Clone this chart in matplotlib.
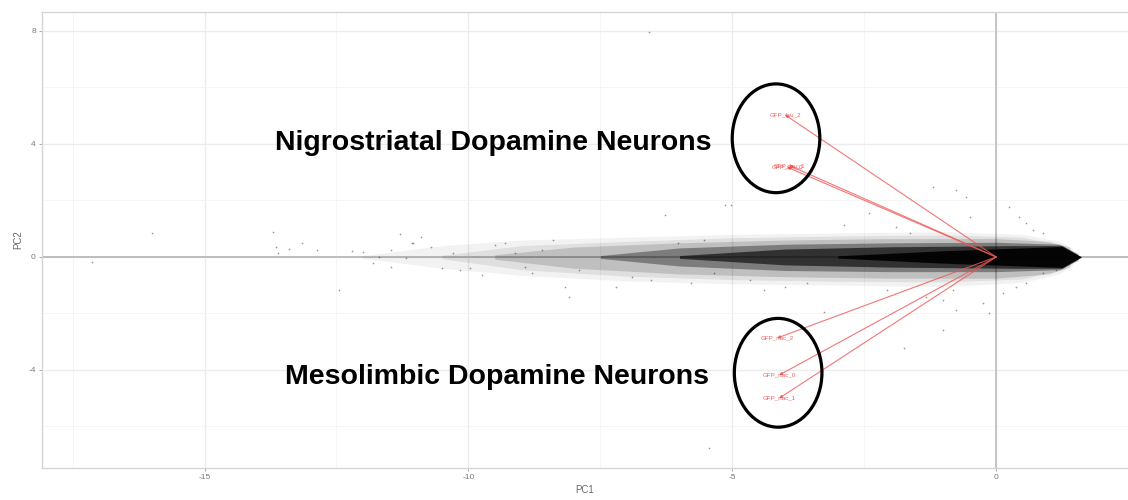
from __future__ import annotations

import matplotlib

matplotlib.use("Agg")
import matplotlib.pyplot as plt
from matplotlib.patches import Ellipse


# loading vectors (PC1, PC2)
LOADING_NAMES = ["GFP_fsu_2", "GFP_fsu_0", "GFP_fsu_1", "GFP_nac_2", "GFP_nac_0", "GFP_nac_1"]
LOADING_PC1 = [-4.00, -3.96, -3.92, -4.15, -4.11, -4.11]
LOADING_PC2 = [5.03, 3.18, 3.24, -2.87, -4.18, -5.00]

# density bands of the dense gene cloud: x, upper edge, lower edge (PC units)
BAND_FAINT_X = [-12.0, -10.5, -9.0, -7.0, -5.0, -3.0, -1.0, 0.5, 1.2, 1.45]
BAND_FAINT_UP = [0.05, 0.40, 0.60, 0.70, 0.80, 0.85, 0.90, 0.80, 0.55, 0.30]
BAND_FAINT_LO = [-0.05, -0.40, -0.65, -0.85, -0.95, -1.00, -1.05, -0.90, -0.60, -0.30]

BAND_SOFT_X = [-10.5, -9.0, -7.0, -5.0, -3.0, -1.0, 0.5, 1.3]
BAND_SOFT_UP = [0.06, 0.40, 0.55, 0.68, 0.74, 0.78, 0.70, 0.40]
BAND_SOFT_LO = [-0.06, -0.45, -0.68, -0.80, -0.86, -0.88, -0.78, -0.42]

BAND_LIGHT_X = [-9.5, -8.0, -6.0, -4.0, -2.0, 0.0, 1.0, 1.4]
BAND_LIGHT_UP = [0.08, 0.35, 0.50, 0.60, 0.65, 0.65, 0.55, 0.35]
BAND_LIGHT_LO = [-0.08, -0.40, -0.60, -0.70, -0.75, -0.75, -0.60, -0.35]

BAND_MID_X = [-7.5, -6.0, -4.0, -2.0, 0.0, 1.2, 1.55]
BAND_MID_UP = [0.05, 0.32, 0.45, 0.50, 0.52, 0.45, 0.12]
BAND_MID_LO = [-0.05, -0.32, -0.48, -0.52, -0.52, -0.45, -0.12]

BAND_DARK_X = [-6.0, -4.0, -2.0, 0.3, 1.25, 1.62]
BAND_DARK_UP = [0.05, 0.28, 0.36, 0.40, 0.40, 0.0]
BAND_DARK_LO = [-0.05, -0.28, -0.36, -0.40, -0.40, 0.0]

BAND_CORE_X = [-3.0, -1.0, 0.5, 1.25, 1.62]
BAND_CORE_UP = [0.04, 0.22, 0.32, 0.37, 0.0]
BAND_CORE_LO = [-0.04, -0.22, -0.32, -0.37, 0.0]

# scattered genes outside the dense band
OUT_PC1 = [-17.14, -16.0, -13.7, -13.65, -13.6, -13.4, -13.15, -12.87, -12.45, -12.2,
           -12.0, -11.8, -11.46, -11.3, -11.46, -11.19, -11.04, -11.7, -11.07, -10.9,
           -10.7, -10.5, -10.3, -10.15, -9.96, -9.75, -9.49, -9.3, -9.11, -8.92,
           -8.8, -8.6, -8.4, -8.16, -8.1, -7.9, -6.28, -7.2, -6.9, -6.53,
           -6.03, -5.78, -5.53, -5.13, -5.03, -2.4, -4.0, -4.66, -5.34, -2.89,
           -3.58, -4.4, -0.5, -0.57, 0.25, 0.57, 0.44, 0.7, 0.88, 0.13,
           0.38, 0.57, -0.25, -0.13, -1.0, -0.81, -1.64, -1.89, -1.32, 0.88,
           1.13, -6.58, -5.44, -0.75, -1.0, -1.75, -3.27, -2.07, -1.19, -0.75]
OUT_PC2 = [-0.17, 0.84, 0.9, 0.36, 0.13, 0.28, 0.49, 0.25, -1.17, 0.22,
           0.19, -0.2, 0.25, 0.8, -0.34, -0.05, 0.48, 0.01, 0.49, 0.72,
           0.36, -0.39, 0.14, -0.46, -0.39, -0.64, 0.42, 0.49, 0.14, -0.35,
           -0.57, 0.25, 0.6, -1.06, -1.41, -0.46, 1.49, -1.06, -0.7, -0.81,
           0.49, -0.92, 0.6, 1.84, 1.84, 1.55, -1.06, -0.81, -0.57, 1.13,
           -0.92, -1.17, 1.42, 2.12, 1.77, 1.2, 1.42, 0.95, 0.85, -1.27,
           -1.06, -0.92, -1.63, -1.98, -1.52, -1.17, 0.85, 1.06, -1.41, -0.57,
           -0.46, 7.95, -6.77, -1.88, -2.58, -3.22, -1.94, -1.17, 2.48, 2.37]

GROUP_LABELS = ["Nigrostriatal Dopamine Neurons", "Mesolimbic Dopamine Neurons"]
GROUP_CENTERS_PC1 = [-4.17, -4.13]
GROUP_CENTERS_PC2 = [4.20, -4.10]


def draw_cloud(ax: plt.Axes) -> None:
    bands = [
        (BAND_FAINT_X, BAND_FAINT_UP, BAND_FAINT_LO, 0.05),
        (BAND_SOFT_X, BAND_SOFT_UP, BAND_SOFT_LO, 0.08),
        (BAND_LIGHT_X, BAND_LIGHT_UP, BAND_LIGHT_LO, 0.14),
        (BAND_MID_X, BAND_MID_UP, BAND_MID_LO, 0.35),
        (BAND_DARK_X, BAND_DARK_UP, BAND_DARK_LO, 0.60),
        (BAND_CORE_X, BAND_CORE_UP, BAND_CORE_LO, 0.90),
    ]
    for xs, up, lo, alpha in bands:
        ax.fill_between(xs, lo, up, color="black", alpha=alpha, lw=0, zorder=2)
    ax.scatter(OUT_PC1, OUT_PC2, s=1.5, color="black", alpha=0.4, lw=0, zorder=2)


def draw_loadings(ax: plt.Axes) -> None:
    for name, px, py in zip(LOADING_NAMES, LOADING_PC1, LOADING_PC2):
        ax.annotate(
            "",
            xy=(px, py),
            xytext=(0, 0),
            arrowprops=dict(arrowstyle="-|>", color="#ee5555", lw=0.8,
                            alpha=0.8, mutation_scale=4, shrinkA=0, shrinkB=0),
            zorder=3,
        )
        ax.text(px, py, name, color="#ee4444", fontsize=4.5, ha="center",
                va="center", alpha=0.85, zorder=4)


def main() -> None:
    plt.rcParams["font.family"] = ["Liberation Sans", "DejaVu Sans"]
    plt.rcParams["axes.unicode_minus"] = False
    fig = plt.figure(figsize=(11.28, 5.0), dpi=100)
    ax = fig.add_axes([42 / 1128, 32 / 500, 1086 / 1128, 456 / 500])
    ax.set_facecolor("white")

    ax.set_xlim(-18.08, 2.42)
    ax.set_ylim(-7.47, 8.67)

    ax.set_xticks([-15, -10, -5, 0])
    ax.set_yticks([-4, 0, 4, 8])
    ax.set_xticks([-17.5, -12.5, -7.5, -2.5, 2.5], minor=True)
    ax.set_yticks([-6, -2, 2, 6], minor=True)
    ax.grid(which="major", color="#ececec", lw=1.0, zorder=0)
    ax.grid(which="minor", color="#f4f4f4", lw=0.6, zorder=0)
    ax.set_axisbelow(True)
    ax.tick_params(which="major", length=2.5, width=0.6, color="#9a9a9a",
                   labelsize=6, labelcolor="#7a7a7a", pad=2)
    ax.tick_params(which="minor", length=0)
    for side in ["left", "bottom", "top"]:
        ax.spines[side].set_color("#d5d5d5")
        ax.spines[side].set_linewidth(1.0)
    ax.spines["right"].set_visible(False)

    ax.axhline(0, color="#bdbdbd", lw=1.4, zorder=1)
    ax.axvline(0, color="#c4c4c4", lw=1.4, zorder=1)

    ax.set_xlabel("PC1", fontsize=7, color="#6a6a6a", labelpad=3)
    ax.set_ylabel("PC2", fontsize=7, color="#6a6a6a", labelpad=4)

    draw_cloud(ax)
    draw_loadings(ax)

    for cx, cy in zip(GROUP_CENTERS_PC1, GROUP_CENTERS_PC2):
        ax.add_patch(Ellipse((cx, cy), width=1.66, height=3.85, fill=False,
                             ec="black", lw=2.3, zorder=5))

    ax.text(-5.39, 4.03, GROUP_LABELS[0], fontsize=20.5, fontweight="bold",
            ha="right", va="center", zorder=6)
    ax.text(-5.44, -4.24, GROUP_LABELS[1], fontsize=20.5, fontweight="bold",
            ha="right", va="center", zorder=6)

    fig.savefig("out.png", dpi=100)
    plt.close(fig)


if __name__ == "__main__":
    main()
